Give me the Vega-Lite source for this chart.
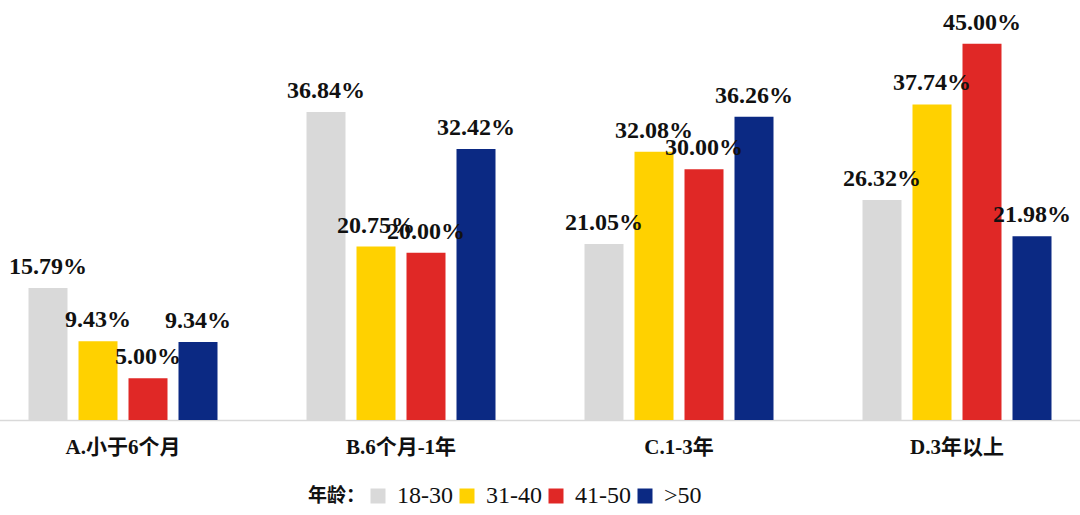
{
  "$schema": "https://vega.github.io/schema/vega-lite/v6.json",
  "width": 1080,
  "height": 418,
  "autosize": {"type": "none"},
  "padding": {"top": 2, "left": 0, "right": 0, "bottom": 95},
  "background": "white",
  "config": {"view": {"stroke": null}},
  "data": {
    "values": [
      {"cat": "A.小于6个月", "age": "18-30", "v": 0.1579},
      {"cat": "A.小于6个月", "age": "31-40", "v": 0.0943},
      {"cat": "A.小于6个月", "age": "41-50", "v": 0.05},
      {"cat": "A.小于6个月", "age": ">50", "v": 0.0934},
      {"cat": "B.6个月-1年", "age": "18-30", "v": 0.3684},
      {"cat": "B.6个月-1年", "age": "31-40", "v": 0.2075},
      {"cat": "B.6个月-1年", "age": "41-50", "v": 0.2},
      {"cat": "B.6个月-1年", "age": ">50", "v": 0.3242},
      {"cat": "C.1-3年", "age": "18-30", "v": 0.2105},
      {"cat": "C.1-3年", "age": "31-40", "v": 0.3208},
      {"cat": "C.1-3年", "age": "41-50", "v": 0.3},
      {"cat": "C.1-3年", "age": ">50", "v": 0.3626},
      {"cat": "D.3年以上", "age": "18-30", "v": 0.2632},
      {"cat": "D.3年以上", "age": "31-40", "v": 0.3774},
      {"cat": "D.3年以上", "age": "41-50", "v": 0.45},
      {"cat": "D.3年以上", "age": ">50", "v": 0.2198}
    ]
  },
  "encoding": {
    "x": {
      "field": "cat", "type": "nominal", "sort": null,
      "scale": {"paddingInner": 0, "paddingOuter": 0, "range": [-16, 1096]},
      "axis": {
        "title": null, "labelAngle": 0, "ticks": false, "tickSize": 0,
        "domainColor": "#D9D9D9", "domainWidth": 1.5,
        "labelFont": "'Liberation Serif', 'DejaVu Serif', 'Noto Sans CJK SC', serif", "labelFontWeight": "bold",
        "labelFontSize": 21, "labelColor": "#111111", "labelPadding": 16
      }
    },
    "xOffset": {
      "field": "age", "type": "nominal", "sort": ["18-30", "31-40", "41-50", ">50"],
      "scale": {"paddingInner": 0.22, "paddingOuter": 0.89}
    },
    "y": {
      "field": "v", "type": "quantitative",
      "scale": {"domain": [0, 0.5], "nice": false},
      "axis": null
    }
  },
  "layer": [
    {
      "mark": {"type": "bar"},
      "encoding": {
        "color": {
          "field": "age", "type": "nominal", "sort": ["18-30", "31-40", "41-50", ">50"],
          "scale": {"domain": ["18-30", "31-40", "41-50", ">50"], "range": ["#D9D9D9", "#FFD100", "#E02826", "#0B2983"]},
          "legend": {
            "orient": "none", "direction": "horizontal", "legendX": 308, "legendY": 482,
            "title": "年龄：", "titleOrient": "left", "titleFont": "'Noto Sans CJK SC', sans-serif",
            "titleFontWeight": "bold", "titleFontSize": 19, "titleColor": "#111111", "titlePadding": 0,
            "titleBaseline": "middle", "titleAnchor": "middle",
            "symbolType": "square", "symbolSize": 225, "symbolStrokeWidth": 0,
            "labelFont": "'Liberation Serif', 'DejaVu Serif', serif", "labelFontSize": 24, "labelColor": "#111111",
            "labelOffset": 7, "columnPadding": 2
          }
        }
      }
    },
    {
      "mark": {
        "type": "text", "baseline": "alphabetic", "dy": -14,
        "font": "'Liberation Serif', 'DejaVu Serif', serif", "fontWeight": "bold", "fontSize": 24, "color": "#111111"
      },
      "encoding": {
        "text": {"field": "v", "type": "quantitative", "format": ".2%"}
      }
    }
  ]
}
